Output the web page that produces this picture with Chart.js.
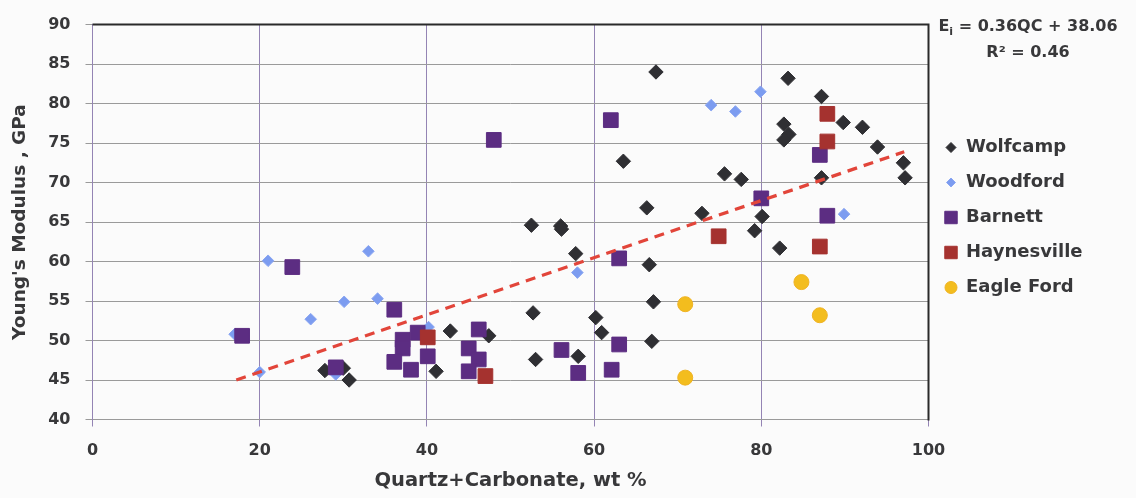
<!DOCTYPE html>
<html>
<head>
<meta charset="utf-8">
<script src="https://cdn.jsdelivr.net/npm/chart.js@4.4.1/dist/chart.umd.min.js"></script>
<style>
  html, body { margin: 0; padding: 0; background: #fbfbfb; }
  #wrap { width: 1136px; height: 498px; }
</style>
</head>
<body>
<div id="wrap"><canvas id="chart" width="1136" height="498"></canvas></div>
<script>
// Quartz+Carbonate content (wt %) and Young's modulus (GPa) per shale play
const wolfcampQC = [67.4, 83.2, 87.2, 82.7, 83.3, 82.7, 89.8, 92.1, 93.9, 97.0, 97.2, 87.2, 63.5, 75.6, 77.6, 66.3, 72.9, 80.1, 79.2, 82.2, 52.5, 56.0, 56.1, 57.8, 66.6, 67.1, 52.7, 60.2, 60.9, 66.9, 58.1, 53.0, 42.8, 47.4, 41.1, 27.8, 30.0, 30.7];
const wolfcampE  = [84.0, 83.2, 80.9, 77.4, 76.1, 75.4, 77.6, 77.0, 74.5, 72.5, 70.6, 70.6, 72.7, 71.1, 70.4, 66.8, 66.1, 65.7, 63.9, 61.7, 64.6, 64.5, 64.1, 61.0, 59.6, 54.9, 53.5, 52.9, 51.0, 49.9, 48.0, 47.6, 51.2, 50.6, 46.1, 46.2, 46.5, 45.0];

const woodfordQC = [74.0, 76.9, 79.9, 89.9, 58.0, 21.0, 33.0, 30.1, 34.1, 26.1, 17.0, 20.0, 29.1, 40.2];
const woodfordE  = [79.8, 79.0, 81.5, 66.0, 58.6, 60.1, 61.3, 54.9, 55.3, 52.7, 50.8, 46.0, 45.7, 51.7];

const barnettQC = [48.0, 62.0, 87.0, 80.0, 87.9, 63.0, 23.9, 17.9, 36.1, 38.9, 37.1, 37.1, 36.1, 38.1, 40.1, 29.1, 46.2, 45.0, 46.2, 45.0, 56.1, 58.1, 62.1, 63.0];
const barnettE  = [75.4, 77.9, 73.5, 68.0, 65.8, 60.4, 59.3, 50.6, 53.9, 51.0, 50.1, 49.0, 47.3, 46.3, 48.0, 46.6, 51.4, 49.0, 47.6, 46.1, 48.8, 45.9, 46.3, 49.5];

const haynesvilleQC = [87.9, 87.9, 74.9, 87.0, 40.1, 47.0];
const haynesvilleE  = [78.7, 75.2, 63.2, 61.9, 50.4, 45.5];

const eagleFordQC = [70.9, 70.9, 84.8, 87.0];
const eagleFordE  = [54.6, 45.3, 57.4, 53.2];

// Ends of the fitted trend line
const trendQC = [17.2, 97.1];
const trendE  = [45.0, 73.9];

// Axis ticks
const xTicks = [0, 20, 40, 60, 80, 100];
const yTicks = [40, 45, 50, 55, 60, 65, 70, 75, 80, 85, 90];

const pairs = (xs, ys) => xs.map((x, i) => ({ x: x, y: ys[i] }));

const FONT = '"DejaVu Sans", sans-serif';
const TEXT = '#38383a';

// Draws the background, the frame's top/right edges, the regression text and the legend
const decor = {
  id: 'decor',
  beforeDraw(chart) {
    const ctx = chart.ctx;
    ctx.save();
    ctx.fillStyle = '#fbfbfb';
    ctx.fillRect(0, 0, chart.width, chart.height);
    ctx.restore();
  },
  afterDraw(chart) {
    const ctx = chart.ctx;
    const a = chart.chartArea;
    ctx.save();

    // top and right frame lines
    ctx.strokeStyle = '#2a2a2a';
    ctx.lineWidth = 2;
    ctx.beginPath();
    ctx.moveTo(a.left, a.top);
    ctx.lineTo(a.right, a.top);
    ctx.lineTo(a.right, a.bottom + 1);
    ctx.stroke();

    // regression equation
    ctx.fillStyle = TEXT;
    ctx.textBaseline = 'middle';
    const big = 'bold 16px ' + FONT;
    const small = 'bold 11px ' + FONT;
    const cx = 1028;
    const rest = ' = 0.36QC + 38.06';
    ctx.font = big;
    const wE = ctx.measureText('E').width;
    const wRest = ctx.measureText(rest).width;
    ctx.font = small;
    const wi = ctx.measureText('i').width;
    let x = cx - (wE + wi + wRest) / 2;
    ctx.textAlign = 'left';
    ctx.font = big;
    ctx.fillText('E', x, 27);
    x += wE;
    ctx.font = small;
    ctx.fillText('i', x, 32);
    x += wi;
    ctx.font = big;
    ctx.fillText(rest, x, 27);
    ctx.textAlign = 'center';
    ctx.fillText('R\u00B2 = 0.46', cx, 53);

    // legend
    const h = Chart.helpers;
    chart.data.datasets.forEach((ds, i) => {
      if (!ds.legendRadius) return;
      const y = 147.5 + i * 35;
      ctx.fillStyle = ds.backgroundColor;
      ctx.strokeStyle = ds.borderColor;
      ctx.lineWidth = 1;
      h.drawPoint(ctx, { pointStyle: ds.pointStyle, radius: ds.legendRadius, rotation: 0, borderWidth: 1 }, 951, y);
      ctx.fillStyle = TEXT;
      ctx.font = 'bold 18px ' + FONT;
      ctx.textAlign = 'left';
      ctx.textBaseline = 'middle';
      ctx.fillText(ds.label, 966, y);
    });
    ctx.restore();
  }
};

new Chart(document.getElementById('chart'), {
  type: 'scatter',
  data: {
    datasets: [
      {
        label: 'Wolfcamp', data: pairs(wolfcampQC, wolfcampE), order: 5,
        pointStyle: 'rectRot', pointRadius: 7.2, backgroundColor: '#2f2f33', borderColor: '#2f2f33',
        borderWidth: 1, legendRadius: 5
      },
      {
        label: 'Woodford', data: pairs(woodfordQC, woodfordE), order: 4,
        pointStyle: 'rectRot', pointRadius: 5.8, backgroundColor: '#7c9cf0', borderColor: '#8aa6f2',
        borderWidth: 1, legendRadius: 4.5
      },
      {
        label: 'Barnett', data: pairs(barnettQC, barnettE), order: 3,
        pointStyle: 'rect', pointRadius: 10.4, backgroundColor: '#5c2d82', borderColor: '#5c2d82',
        borderWidth: 1, legendRadius: 8.8
      },
      {
        label: 'Haynesville', data: pairs(haynesvilleQC, haynesvilleE), order: 2,
        pointStyle: 'rect', pointRadius: 10.4, backgroundColor: '#a5322f', borderColor: '#a5322f',
        borderWidth: 1, legendRadius: 8.8
      },
      {
        label: 'Eagle Ford', data: pairs(eagleFordQC, eagleFordE), order: 1,
        pointStyle: 'circle', pointRadius: 7.5, backgroundColor: '#f3bd1e', borderColor: '#f0b323',
        borderWidth: 1, legendRadius: 6
      },
      {
        label: 'Trend', data: pairs(trendQC, trendE), order: 0,
        showLine: true, pointRadius: 0, borderColor: '#e2453a', borderWidth: 3.2,
        borderDash: [10, 7], fill: false
      }
    ]
  },
  options: {
    responsive: false,
    animation: false,
    devicePixelRatio: 1,
    layout: { padding: { left: 0, top: 16, right: 207.5, bottom: 0 } },
    plugins: { legend: { display: false }, tooltip: { enabled: false } },
    scales: {
      x: {
        type: 'linear', min: 0, max: 100,
        afterBuildTicks: s => { s.ticks = xTicks.map(v => ({ value: v })); },
        afterFit: s => { s.height = 78.5; },
        grid: { color: '#9484b4', lineWidth: 1, tickLength: 7, drawTicks: true },
        border: { color: '#9a9a9a', width: 1 },
        ticks: { color: TEXT, font: { family: FONT, size: 16, weight: 'bold' }, padding: 15, maxRotation: 0 },
        title: {
          display: true, text: 'Quartz+Carbonate, wt %', color: TEXT,
          font: { family: FONT, size: 19.5, weight: 'bold' }, padding: { top: 0, bottom: 5 }
        }
      },
      y: {
        type: 'linear', min: 40, max: 90,
        afterBuildTicks: s => { s.ticks = yTicks.map(v => ({ value: v })); },
        afterFit: s => { s.width = 92.5; },
        grid: { color: '#9a9a9a', lineWidth: 1, tickLength: 7, drawTicks: true },
        border: { color: '#9484b4', width: 1 },
        ticks: { color: TEXT, font: { family: FONT, size: 16, weight: 'bold' }, padding: 15 },
        title: {
          display: true, text: "Young's Modulus , GPa", color: TEXT,
          font: { family: FONT, size: 18.5, weight: 'bold' }, padding: { top: 9, bottom: 0 }
        }
      }
    }
  },
  plugins: [decor]
});
</script>
</body>
</html>
